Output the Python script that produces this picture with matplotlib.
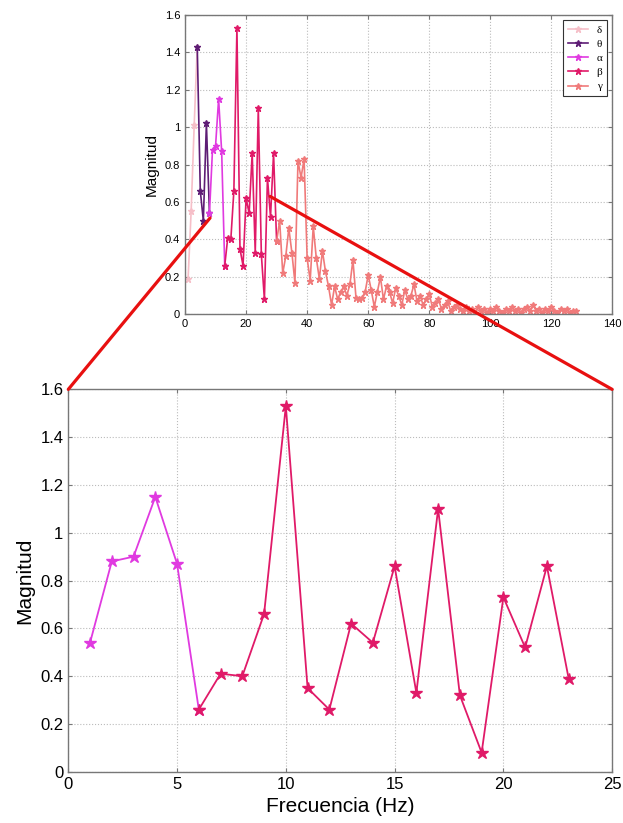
import numpy as np
import matplotlib.pyplot as plt
from matplotlib.patches import ConnectionPatch

plt.rcParams['font.family'] = ['Liberation Sans', 'DejaVu Sans']

# Band data (top overview, frequency index -> magnitude)
delta_x = [1, 2, 3, 4]
delta_y = [0.19, 0.55, 1.01, 1.43]
theta_x = [4, 5, 6, 7, 8]
theta_y = [1.43, 0.66, 0.50, 1.02, 0.54]
alpha_x = [8, 9, 10, 11, 12, 13]
alpha_y = [0.54, 0.88, 0.90, 1.15, 0.87, 0.26]
beta_x = list(range(13, 31))
beta_y = [0.26, 0.41, 0.40, 0.66, 1.53, 0.35, 0.26, 0.62, 0.54, 0.86,
          0.33, 1.10, 0.32, 0.08, 0.73, 0.52, 0.86, 0.39]
gamma_x = list(range(30, 129))
gamma_y = [0.39, 0.50, 0.22, 0.31, 0.46, 0.33, 0.17, 0.82, 0.73, 0.83,
           0.30, 0.18, 0.47, 0.30, 0.19, 0.34, 0.23, 0.15, 0.05, 0.15,
           0.08, 0.12, 0.15, 0.10, 0.16, 0.29, 0.09, 0.08, 0.09, 0.12,
           0.21, 0.13, 0.04, 0.12, 0.20, 0.08, 0.15, 0.12, 0.06, 0.14,
           0.10, 0.05, 0.13, 0.08, 0.10, 0.16, 0.07, 0.10, 0.05, 0.08,
           0.11, 0.04, 0.06, 0.08, 0.03, 0.05, 0.07, 0.02, 0.04, 0.05,
           0.03, 0.02, 0.04, 0.02, 0.03, 0.01, 0.04, 0.02, 0.03, 0.01,
           0.03, 0.02, 0.04, 0.02, 0.01, 0.03, 0.02, 0.04, 0.02, 0.03,
           0.01, 0.03, 0.04, 0.02, 0.05, 0.02, 0.03, 0.01, 0.03, 0.02,
           0.04, 0.02, 0.01, 0.03, 0.02, 0.03, 0.01, 0.02, 0.02]

# Zoomed view (Hz)
zoom_alpha_x = [1, 2, 3, 4, 5, 6]
zoom_beta_x = list(range(6, 24))

labels = ['δ', 'θ', 'α', 'β', 'γ']
colors = ['#f6bfc8', '#5e1d75', '#e03ae0', '#e01a68', '#f07a7a']

y_ticks = [0, 0.2, 0.4, 0.6, 0.8, 1, 1.2, 1.4, 1.6]
y_ticklabels = ['0', '0.2', '0.4', '0.6', '0.8', '1', '1.2', '1.4', '1.6']
top_xticks = [0, 20, 40, 60, 80, 100, 120, 140]
bot_xticks = [0, 5, 10, 15, 20, 25]

fig = plt.figure(figsize=(6.23, 8.23), dpi=100)
ax1 = fig.add_axes([0.297, 0.618, 0.686, 0.364])
ax2 = fig.add_axes([0.1096, 0.0623, 0.873, 0.4646])


def style(ax, fs):
    for s in ax.spines.values():
        s.set_color('#777777')
        s.set_linewidth(1.0)
    ax.tick_params(direction='in', top=True, right=True, labelsize=fs,
                   color='#777777', length=3)
    ax.grid(True, linestyle=':', color='#bbbbbb', linewidth=0.8)
    ax.set_axisbelow(True)


series = [(delta_x, delta_y), (theta_x, theta_y), (alpha_x, alpha_y),
          (beta_x, beta_y), (gamma_x, gamma_y)]
for (x, y), c, lab in zip(series, colors, labels):
    ax1.plot(x, y, color=c, marker='*', markersize=5, linewidth=1.2, label=lab)
ax1.set_xlim(0, 140)
ax1.set_ylim(0, 1.6)
ax1.set_xticks(top_xticks)
ax1.set_yticks(y_ticks)
ax1.set_yticklabels(y_ticklabels)
ax1.set_ylabel('Magnitud', fontsize=11)
style(ax1, 8)
leg = ax1.legend(loc='upper right', prop={'family': 'Liberation Serif', 'size': 8},
                 handlelength=1.8, fancybox=False, framealpha=1,
                 edgecolor='#333333', borderpad=0.4, labelspacing=0.4,
                 markerfirst=True)
leg.get_frame().set_linewidth(0.8)

ax2.plot(zoom_alpha_x, alpha_y, color=colors[2], marker='*', markersize=9, linewidth=1.3)
ax2.plot(zoom_beta_x, beta_y, color=colors[3], marker='*', markersize=9, linewidth=1.3)
ax2.set_xlim(0, 25)
ax2.set_ylim(0, 1.6)
ax2.set_xticks(bot_xticks)
ax2.set_yticks(y_ticks)
ax2.set_yticklabels(y_ticklabels)
ax2.set_xlabel('Frecuencia (Hz)', fontsize=15)
ax2.set_ylabel('Magnitud', fontsize=15)
style(ax2, 12)

# red zoom lines
for (xa, ya), (xb, yb) in [((8.2, 0.515), (0, 1.6)), ((27.9, 0.63), (25, 1.6))]:
    con = ConnectionPatch(xyA=(xa, ya), coordsA=ax1.transData,
                          xyB=(xb, yb), coordsB=ax2.transData,
                          color='#e81010', linewidth=2.3, zorder=10)
    fig.add_artist(con)

fig.savefig('out.png', dpi=100)
